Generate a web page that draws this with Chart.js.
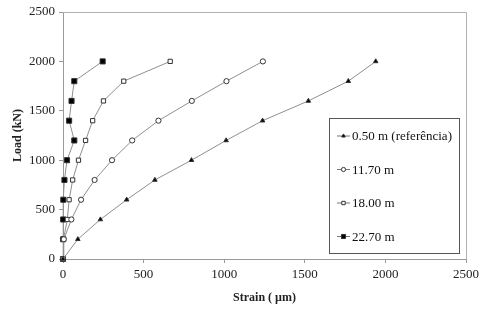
<!DOCTYPE html>
<html>
<head>
<meta charset="utf-8">
<script src="https://cdn.jsdelivr.net/npm/chart.js@4"></script>
<style>
  html, body { margin: 0; padding: 0; background: #fff; }
  #wrap { width: 485px; height: 310px; }
</style>
</head>
<body>
<div id="wrap"><canvas id="loadChart"></canvas></div>
<script>
// load steps (kN)
const loads = [0, 200, 400, 600, 800, 1000, 1200, 1400, 1600, 1800, 2000];

// strain readings (µm) per gauge depth
const strain050 = [0, 92, 232, 395, 570, 797, 1012, 1238, 1522, 1770, 1940];
const strain1170 = [0, 5, 52, 112, 196, 304, 429, 592, 799, 1014, 1240];
const strain1800 = [0, 3, 27, 38, 60, 96, 140, 184, 251, 377, 665];
const strain2270 = [0, 1, 1, 2, 9, 25, 70, 38, 53, 70, 246];

const seriesLabels = ['0.50 m (referência)', '11.70 m', '18.00 m', '22.70 m'];
const axisTicks = [0, 500, 1000, 1500, 2000, 2500];

const serif = "'Liberation Serif', 'Times New Roman', serif";

function toPoints(xs) {
    return xs.map((x, i) => ({ x: x, y: loads[i] }));
}

// frame around the plot area and a boxed legend inside it
const framePlugin = {
    id: 'frame',
    afterDraw(chart) {
        const ctx = chart.ctx;
        const a = chart.chartArea;
        ctx.save();
        ctx.strokeStyle = '#b0b0b0';
        ctx.lineWidth = 1;
        ctx.beginPath();
        ctx.moveTo(a.left, a.top + 0.5);
        ctx.lineTo(a.right + 0.5, a.top + 0.5);
        ctx.lineTo(a.right + 0.5, a.bottom);
        ctx.stroke();

        // legend box
        const bx = 329, by = 118, bw = 130, bh = 135;
        ctx.fillStyle = '#fff';
        ctx.fillRect(bx, by, bw, bh);
        ctx.strokeStyle = '#555';
        ctx.strokeRect(bx + 0.5, by + 0.5, bw, bh);

        ctx.font = '13px ' + serif;
        ctx.textBaseline = 'middle';
        chart.data.datasets.forEach((ds, i) => {
            const cy = 136 + i * 33.5;
            ctx.strokeStyle = '#777';
            ctx.beginPath();
            ctx.moveTo(337, cy);
            ctx.lineTo(350, cy);
            ctx.stroke();
            ctx.fillStyle = ds.pointBackgroundColor;
            ctx.strokeStyle = ds.pointBorderColor;
            Chart.helpers.drawPoint(ctx, {
                pointStyle: ds.pointStyle,
                radius: ds.pointRadius * 0.8,
                rotation: 0,
                borderWidth: 1
            }, 343.5, cy);
            ctx.fillStyle = '#111';
            ctx.fillText(ds.label, 352, cy + 1);
        });
        ctx.restore();
    }
};

function makeSet(label, xs, style, radius, fill) {
    return {
        label: label,
        data: toPoints(xs),
        borderColor: '#8f8f8f',
        borderWidth: 1,
        pointStyle: style,
        pointRadius: radius,
        pointBackgroundColor: fill,
        pointBorderColor: '#333',
        pointBorderWidth: 1,
        showLine: true,
        fill: false,
        clip: false
    };
}

function drawChart() {
    new Chart(document.getElementById('loadChart'), {
        type: 'scatter',
        data: {
            datasets: [
                makeSet(seriesLabels[0], strain050, 'triangle', 2.6, '#000'),
                makeSet(seriesLabels[1], strain1170, 'circle', 2.6, '#fff'),
                makeSet(seriesLabels[2], strain1800, 'rect', 3, '#fff'),
                makeSet(seriesLabels[3], strain2270, 'rect', 3.6, '#000')
            ]
        },
        options: {
            responsive: true,
            maintainAspectRatio: false,
            animation: false,
            layout: { padding: { left: 0, top: 12, right: 19, bottom: 0 } },
            plugins: {
                legend: { display: false },
                tooltip: { enabled: false }
            },
            scales: {
                x: {
                    type: 'linear',
                    min: 0,
                    max: 2500,
                    afterFit: s => { s.height = 51; },
                    afterBuildTicks: s => { s.ticks = axisTicks.map(v => ({ value: v })); },
                    grid: { drawOnChartArea: false, drawTicks: true, tickLength: 4, color: '#999' },
                    border: { color: '#999' },
                    ticks: {
                        color: '#222', padding: 4, maxRotation: 0,
                        font: { family: serif, size: 13 },
                        callback: v => String(v)
                    },
                    title: {
                        display: true,
                        text: 'Strain ( µm)',
                        color: '#222',
                        padding: { top: 0, bottom: 5 },
                        font: { family: serif, size: 12, weight: 'bold' }
                    }
                },
                y: {
                    type: 'linear',
                    min: 0,
                    max: 2500,
                    afterFit: s => { s.width = 63; },
                    afterBuildTicks: s => { s.ticks = axisTicks.map(v => ({ value: v })); },
                    grid: { drawOnChartArea: false, drawTicks: true, tickLength: 4, color: '#999' },
                    border: { color: '#999' },
                    ticks: {
                        color: '#222', padding: 4,
                        font: { family: serif, size: 13 },
                        callback: v => String(v)
                    },
                    title: {
                        display: true,
                        text: 'Load (kN)',
                        color: '#222',
                        padding: { top: 11, bottom: 0 },
                        font: { family: serif, size: 12, weight: 'bold' }
                    }
                }
            }
        },
        plugins: [framePlugin]
    });
}

Promise.all([
    document.fonts.load("13px 'Liberation Serif'"),
    document.fonts.load("bold 12px 'Liberation Serif'")
]).then(drawChart, drawChart);
</script>
</body>
</html>
